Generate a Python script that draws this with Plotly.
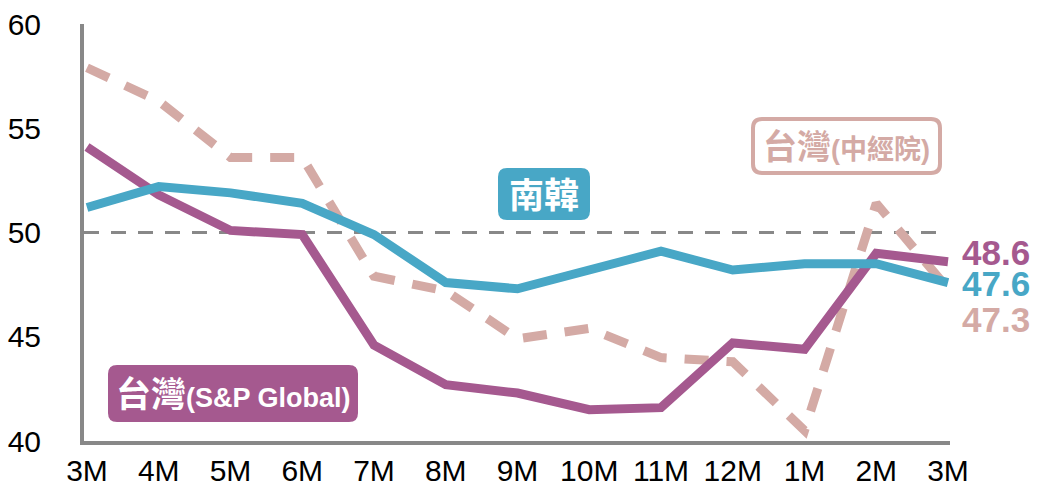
import plotly.graph_objects as go

months = ["3M", "4M", "5M", "6M", "7M", "8M", "9M", "10M", "11M", "12M", "1M", "2M", "3M"]
taiwan_sp = [54.1, 51.8, 50.1, 49.9, 44.6, 42.7, 42.3, 41.5, 41.6, 44.7, 44.4, 49.0, 48.6]
korea = [51.2, 52.2, 51.9, 51.4, 49.9, 47.6, 47.3, 48.2, 49.1, 48.2, 48.5, 48.5, 47.6]
taiwan_cier = [57.9, 56.3, 53.6, 53.6, 47.9, 47.2, 44.9, 45.4, 44.0, 43.8, 40.5, 51.4, 47.3]
y_ticks = [40, 45, 50, 55, 60]

PURPLE = "#A5598F"
BLUE = "#48A7C6"
PINK = "#D4AAA5"
GRAY = "#888888"
FONT = "Liberation Sans, Arial, Noto Sans CJK TC, sans-serif"

x = list(range(len(months)))

# pixel geometry helpers (for label boxes)
X0, XS = 87.0, 71.75
Y0, YS = 441.0, 20.85
def dx(px):
    return (px - X0) / XS
def dy(py):
    return 40 + (Y0 - py) / YS

def rrect(x0, y0, x1, y1, r):
    def P(px, py):
        return f"{dx(px):.5f},{dy(py):.5f}"
    return (f"M {P(x0+r,y0)} L {P(x1-r,y0)} Q {P(x1,y0)} {P(x1,y0+r)} "
            f"L {P(x1,y1-r)} Q {P(x1,y1)} {P(x1-r,y1)} L {P(x0+r,y1)} "
            f"Q {P(x0,y1)} {P(x0,y1-r)} L {P(x0,y0+r)} Q {P(x0,y0)} {P(x0+r,y0)} Z")

fig = go.Figure()
fig.add_trace(go.Scatter(x=x, y=taiwan_cier, mode="lines",
                         line=dict(color=PINK, width=9, dash="24px,18px"),
                         showlegend=False, hoverinfo="skip"))
fig.add_trace(go.Scatter(x=x, y=taiwan_sp, mode="lines",
                         line=dict(color=PURPLE, width=9),
                         showlegend=False, hoverinfo="skip"))
fig.add_trace(go.Scatter(x=x, y=korea, mode="lines",
                         line=dict(color=BLUE, width=9),
                         showlegend=False, hoverinfo="skip"))

shapes = [
    dict(type="line", xref="x", yref="y", x0=dx(84), x1=dx(946), y0=50, y1=50,
         line=dict(color=GRAY, width=3, dash="15px,12px"), layer="below"),
    dict(type="path", xref="x", yref="y", path=rrect(498, 168, 590, 220, 9),
         fillcolor=BLUE, line=dict(width=0)),
    dict(type="path", xref="x", yref="y", path=rrect(108, 365, 358, 422, 9),
         fillcolor=PURPLE, line=dict(width=0)),
    dict(type="path", xref="x", yref="y", path=rrect(753, 119, 940, 173, 9),
         fillcolor="white", line=dict(color=PINK, width=4)),
]

annotations = [
    dict(x=dx(544), y=dy(195), xref="x", yref="y", showarrow=False,
         text="<b>南韓</b>", font=dict(family=FONT, size=35, color="white")),
    dict(x=dx(233), y=dy(394), xref="x", yref="y", showarrow=False,
         text="<b>台灣</b><b><span style='font-size:27px'>(S&P Global)</span></b>",
         font=dict(family=FONT, size=35, color="white")),
    dict(x=dx(846), y=dy(147), xref="x", yref="y", showarrow=False,
         text="<b>台灣</b><b><span style='font-size:27px'>(中經院)</span></b>",
         font=dict(family=FONT, size=34, color=PINK)),
    dict(x=12, y=taiwan_sp[-1], xref="x", yref="y", showarrow=False, xanchor="left",
         xshift=12, yshift=9, text=f"<b>{taiwan_sp[-1]}</b>",
         font=dict(family=FONT, size=35, color=PURPLE)),
    dict(x=12, y=korea[-1], xref="x", yref="y", showarrow=False, xanchor="left",
         xshift=12, yshift=-1, text=f"<b>{korea[-1]}</b>",
         font=dict(family=FONT, size=35, color=BLUE)),
    dict(x=12, y=taiwan_cier[-1], xref="x", yref="y", showarrow=False, xanchor="left",
         xshift=12, yshift=-31, text=f"<b>{taiwan_cier[-1]}</b>",
         font=dict(family=FONT, size=35, color=PINK)),
]

fig.update_layout(
    width=1037, height=483,
    margin=dict(l=84, r=87, t=24, b=42, autoexpand=False),
    paper_bgcolor="white", plot_bgcolor="white",
    font=dict(family=FONT, size=30, color="black"),
    shapes=shapes, annotations=annotations,
    xaxis=dict(tickmode="array", tickvals=x, ticktext=months,
               range=[dx(84), dx(950)], showgrid=False, zeroline=False,
               showline=True, linecolor=GRAY, linewidth=4, ticks="",
               ticklabelstandoff=0, fixedrange=True, automargin=False,
               tickfont=dict(size=30)),
    yaxis=dict(range=[40, 60], tickvals=y_ticks, showgrid=False, zeroline=False,
               showline=True, linecolor=GRAY, linewidth=4, ticks="",
               ticklabelstandoff=33, fixedrange=True, automargin=False,
               tickfont=dict(size=30)),
)

fig.write_html("out.html")
